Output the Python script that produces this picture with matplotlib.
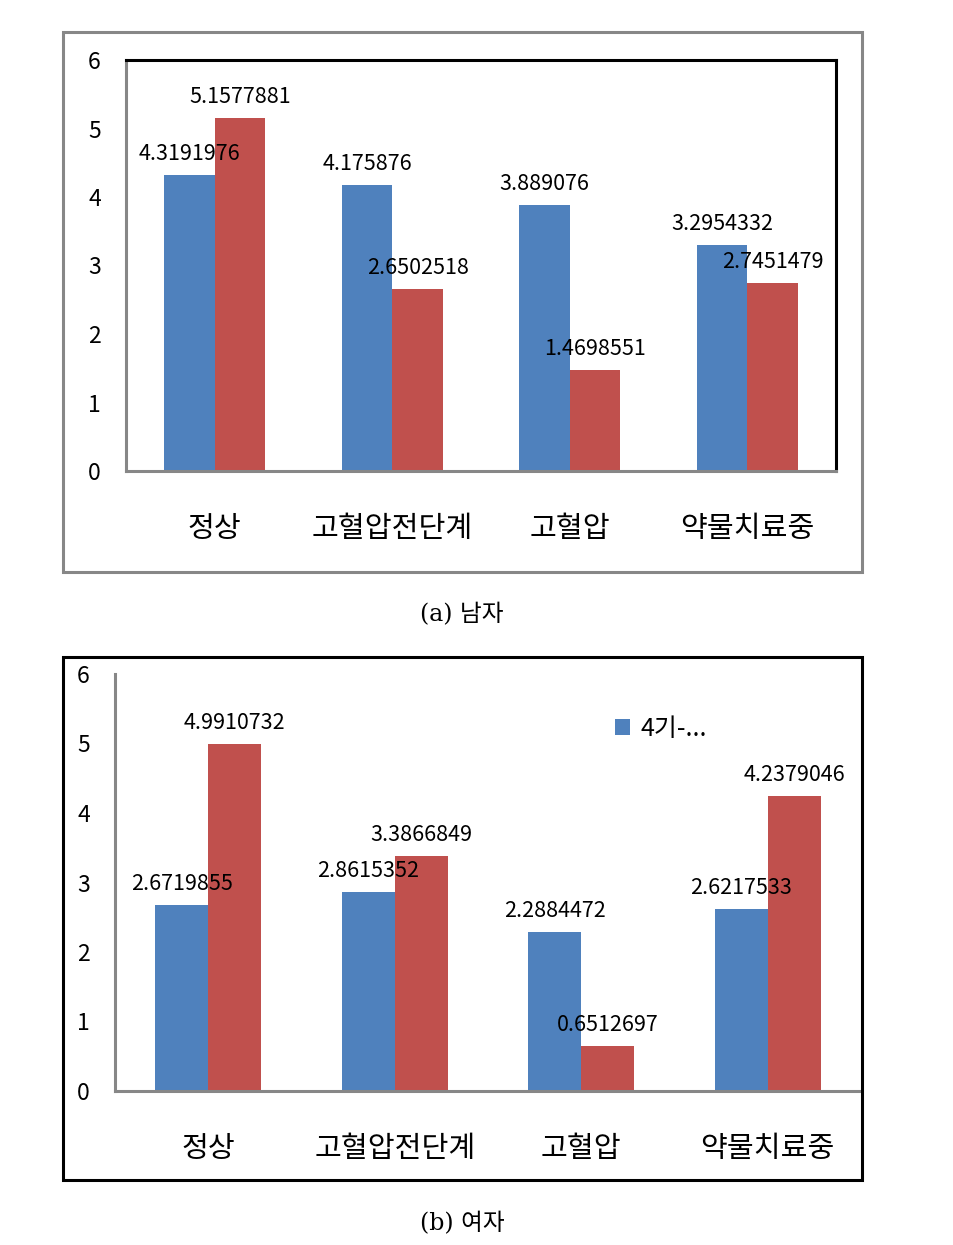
import matplotlib
matplotlib.use("Agg")
import matplotlib.pyplot as plt
from matplotlib.patches import Rectangle

plt.rcParams['font.family'] = ['Noto Sans CJK KR', 'DejaVu Sans']

categories = ["정상", "고혈압전단계", "고혈압", "약물치료중"]
male_blue = [4.3191976, 4.175876, 3.889076, 3.2954332]
male_red = [5.1577881, 2.6502518, 1.4698551, 2.7451479]
female_blue = [2.6719855, 2.8615352, 2.2884472, 2.6217533]
female_red = [4.9910732, 3.3866849, 0.6512697, 4.2379046]
male_blue_txt = ["4.3191976", "4.175876", "3.889076", "3.2954332"]
male_red_txt = ["5.1577881", "2.6502518", "1.4698551", "2.7451479"]
female_blue_txt = ["2.6719855", "2.8615352", "2.2884472", "2.6217533"]
female_red_txt = ["4.9910732", "3.3866849", "0.6512697", "4.2379046"]
legend_label = "4기-..."
captions = ["(a) 남자", "(b) 여자"]

BLUE = "#4F81BD"
RED = "#C0504D"
GRAY = "#878787"
W, H = 954, 1245


def fig_rect(x0, y0, x1, y1):
    # pixel box (top-left origin) -> figure fraction [l, b, w, h]
    return [x0 / W, 1 - y1 / H, (x1 - x0) / W, (y1 - y0) / H]


def draw_panel(ax, blue, red, blue_txt, red_txt, width):
    x = list(range(len(categories)))
    xb = [i - width / 2 for i in x]
    xr = [i + width / 2 for i in x]
    bb = ax.bar(xb, blue, width, color=BLUE)
    ax.bar(xr, red, width, color=RED)
    for xi, v, t in zip(xb, blue, blue_txt):
        ax.annotate(t, (xi, v), xytext=(0, 21), textcoords="offset pixels",
                    ha="center", va="center", fontsize=15.5)
    for xi, v, t in zip(xr, red, red_txt):
        ax.annotate(t, (xi, v), xytext=(0, 21), textcoords="offset pixels",
                    ha="center", va="center", fontsize=15.5)
    ax.set_xlim(-0.5, len(categories) - 0.5)
    ax.set_ylim(0, 6)
    ax.set_yticks(range(0, 7))
    ax.set_xticks(x)
    ax.set_xticklabels(categories, fontsize=21)
    ax.tick_params(axis="both", length=0)
    ax.tick_params(axis="y", labelsize=16.5, pad=18)
    ax.tick_params(axis="x", pad=31)
    for s in ["left", "bottom"]:
        ax.spines[s].set_color(GRAY)
        ax.spines[s].set_linewidth(2.2)
    return bb


fig = plt.figure(figsize=(W / 100, H / 100), dpi=100)

# top panel (male)
fig.patches.append(Rectangle((63 / W, 1 - 572 / H), (862 - 63) / W, (572 - 32) / H,
                             transform=fig.transFigure, fill=False,
                             edgecolor=GRAY, lw=2.2))
ax1 = fig.add_axes(fig_rect(126, 60, 836, 471))
draw_panel(ax1, male_blue, male_red, male_blue_txt, male_red_txt, 0.285)
for s in ["top", "right"]:
    ax1.spines[s].set_color("black")
    ax1.spines[s].set_linewidth(2.2)

# bottom panel (female)
fig.patches.append(Rectangle((63 / W, 1 - 1180 / H), (862 - 63) / W, (1180 - 657) / H,
                             transform=fig.transFigure, fill=False,
                             edgecolor="black", lw=2.2))
ax2 = fig.add_axes(fig_rect(115, 674, 861, 1091))
bb = draw_panel(ax2, female_blue, female_red, female_blue_txt, female_red_txt, 0.284)
ax2.spines["top"].set_visible(False)
ax2.spines["right"].set_visible(False)
ax2.legend([bb], [legend_label], loc="upper left", frameon=False,
           bbox_to_anchor=(593 / W, 1 - 693 / H), bbox_transform=fig.transFigure,
           fontsize=18, handlelength=0.6, handleheight=0.6, handletextpad=0.4)

fig.text(462 / W, 1 - 615 / H, captions[0], ha="center", va="center",
         fontsize=17, family=["DejaVu Serif", "Noto Sans CJK KR"])
fig.text(462 / W, 1 - 1224 / H, captions[1], ha="center", va="center",
         fontsize=17, family=["DejaVu Serif", "Noto Sans CJK KR"])

fig.savefig("out.png", dpi=100)
